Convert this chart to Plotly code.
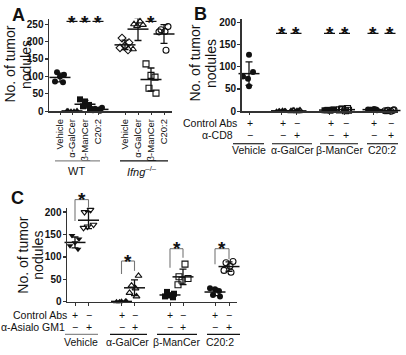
import numpy as np
import plotly.graph_objects as go

# ---------------- data ----------------
A_ticks = ["Vehicle", "α-GalCer", "β-ManCer", "C20:2", "Vehicle", "α-GalCer", "β-ManCer", "C20:2"]
A_wt_vehicle = [112, 105, 100, 85, 83]
A_wt_agalcer = [0, 1, 2, 0, 1]
A_wt_bmancer = [34, 28, 18, 14, 6]
A_wt_c202 = [10, 7, 5, 3, 1]
A_ko_vehicle = [210, 197, 188, 182, 176]
A_ko_agalcer = [258, 250, 248, 245, 178]
A_ko_bmancer = [136, 103, 98, 66, 52]
A_ko_c202 = [243, 234, 229, 228, 175]

B_groups = ["Vehicle", "α-GalCer", "β-ManCer", "C20:2"]
B_vehicle = [127, 88, 78, 73, 56]
B_agalcer_ctrl = [0, 1, 2, 1, 0, 1]
B_agalcer_cd8 = [0, 1, 0, 2, 1, 0]
B_bmancer_ctrl = [2, 3, 1, 4, 2, 3]
B_bmancer_cd8 = [3, 5, 1, 2, 4, 6]
B_c202_ctrl = [4, 3, 5, 2, 3, 4]
B_c202_cd8 = [1, 2, 0, 3, 1, 2]
B_ctrl_signs = ["+", "+", "−", "+", "−", "+", "−"]
B_cd8_signs = ["−", "−", "+", "−", "+", "−", "+"]

C_groups = ["Vehicle", "α-GalCer", "β-ManCer", "C20:2"]
C_vehicle_ctrl = [148, 140, 132, 125, 117]
C_vehicle_agm1 = [205, 200, 172, 168, 165]
C_agalcer_ctrl = [0, 1, 2, 0, 1]
C_agalcer_agm1 = [58, 36, 30, 20, 12]
C_bmancer_ctrl = [22, 18, 14, 12, 10]
C_bmancer_agm1 = [84, 56, 52, 48, 38]
C_c202_ctrl = [30, 28, 24, 15, 12]
C_c202_agm1 = [90, 87, 80, 70, 66]
C_ctrl_signs = ["+", "−", "+", "−", "+", "−", "+", "−"]
C_agm1_signs = ["−", "+", "−", "+", "−", "+", "−", "+"]

# significance marks (value levels)
A_sig_level = 258
B_sig_level = 175
# brackets in C: (top, left leg bottom, right leg bottom)
C_brackets = [(228, 180, 210), (91, 62, 69), (118.5, 76, 98), (118.5, 84, 95)]

# ---------------- layout constants ----------------
W, H = 406, 355
FONT = "Liberation Sans"
INK = "#111111"
AX = "#333333"


def px(x):
    return x / W


def py(y):
    return 1 - y / H


# x axes are expressed in pixel-like units
A_pos = [60, 72, 85, 98, 125, 138, 151, 164]
B_pos = [249, 281.5, 296, 329.5, 344.5, 373, 390]
C_pos = [75, 88.5, 121.5, 134.5, 170, 183, 215, 229]

OFF = [
    [-3, 4, 0, -5, 3],
    [2, -4, 5, -1, -5],
    [-5, 0, 4, -2, 5],
    [4, -3, 1, -5, 2],
]
OFF6 = [-5, -2, 1, 4, -3, 3]
B_veh_off = [0, 4, -6, -1, 0]

A_range_y = [0, 266]
B_range_y = [0, 208]
C_range_y = [0, 208.7]

fig = go.Figure()


def add_points(ax, pos, vals, offs, symbol, filled, size=6):
    xs = [pos + offs[i % len(offs)] for i in range(len(vals))]
    fig.add_trace(go.Scatter(
        x=xs, y=vals, mode="markers", xaxis="x" + ax, yaxis="y" + ax,
        marker=dict(symbol=symbol if filled else symbol + "-open", size=size,
                    color=INK, line=dict(width=0 if filled else 1.1, color=INK)),
        showlegend=False, hoverinfo="skip", cliponaxis=False))


def add_mean(ax, pos, vals, width=15):
    m = float(np.mean(vals))
    s = float(np.std(vals, ddof=1))
    fig.add_trace(go.Scatter(
        x=[pos], y=[m], mode="markers", xaxis="x" + ax, yaxis="y" + ax,
        marker=dict(symbol="line-ew", size=width, color=INK, line=dict(width=1.5, color=INK)),
        error_y=dict(type="data", array=[s], thickness=1.3, width=3.5, color=INK),
        showlegend=False, hoverinfo="skip", cliponaxis=False))


# ---- panel A ----
A_sets = [
    (A_wt_vehicle, "circle", True), (A_wt_agalcer, "triangle-up", True),
    (A_wt_bmancer, "square", True), (A_wt_c202, "circle", True),
    (A_ko_vehicle, "diamond", False), (A_ko_agalcer, "triangle-up", False),
    (A_ko_bmancer, "square", False), (A_ko_c202, "circle", False),
]
for i, (vals, sym, filled) in enumerate(A_sets):
    add_points("", A_pos[i], vals, OFF[i % 4], sym, filled)
    add_mean("", A_pos[i], vals)

# ---- panel B ----
B_sets = [
    (B_vehicle, "circle", True), (B_agalcer_ctrl, "triangle-up", True),
    (B_agalcer_cd8, "triangle-up", False), (B_bmancer_ctrl, "square", True),
    (B_bmancer_cd8, "square", False), (B_c202_ctrl, "circle", True),
    (B_c202_cd8, "circle", False),
]
for i, (vals, sym, filled) in enumerate(B_sets):
    add_points("2", B_pos[i], vals, B_veh_off if i == 0 else OFF6, sym, filled)
    add_mean("2", B_pos[i], vals)

# ---- panel C ----
C_sets = [
    (C_vehicle_ctrl, "triangle-down", True), (C_vehicle_agm1, "triangle-down", False),
    (C_agalcer_ctrl, "triangle-up", True), (C_agalcer_agm1, "triangle-up", False),
    (C_bmancer_ctrl, "square", True), (C_bmancer_agm1, "square", False),
    (C_c202_ctrl, "circle", True), (C_c202_agm1, "circle", False),
]
for i, (vals, sym, filled) in enumerate(C_sets):
    add_points("3", C_pos[i], vals, OFF[i % 4], sym, filled)
    add_mean("3", C_pos[i], vals)

shapes = []
annotations = []


def star(xref, yref, x, v, ymax):
    annotations.append(dict(
        xref=xref, yref=yref + " domain", x=x, y=v / ymax, text="*",
        showarrow=False, xanchor="center", yanchor="middle", yshift=-4.5,
        font=dict(size=19, family=FONT, color=INK, weight="bold")))


def dline(xref, yref, x0, x1, v0, v1, ymax, color=INK, width=1.2):
    shapes.append(dict(type="line", xref=xref, yref=yref + " domain",
                       x0=x0, x1=x1, y0=v0 / ymax, y1=v1 / ymax,
                       line=dict(color=color, width=width)))


# A significance
for i in [1, 2, 3, 6]:
    dline("x", "y", A_pos[i] - 5.5, A_pos[i] + 5.5, A_sig_level, A_sig_level, A_range_y[1])
    star("x", "y", A_pos[i], A_sig_level + 11, A_range_y[1])
# B significance
for i in range(1, 7):
    dline("x2", "y2", B_pos[i] - 5.5, B_pos[i] + 5.5, B_sig_level, B_sig_level, B_range_y[1])
    star("x2", "y2", B_pos[i], B_sig_level + 9, B_range_y[1])
# C brackets
GRAY = "#777777"
for k, (top, lb, rb) in enumerate(C_brackets):
    xl, xr = C_pos[2 * k], C_pos[2 * k + 1]
    ym = C_range_y[1]
    dline("x3", "y3", xl, xl, lb, top, ym, GRAY, 1.1)
    dline("x3", "y3", xl, xr, top, top, ym, GRAY, 1.1)
    dline("x3", "y3", xr, xr, rb, top, ym, GRAY, 1.1)
    star("x3", "y3", (xl + xr) / 2, top + 10, ym)


def text(x, y, s, size=10.5, xanchor="center", bold=False, angle=0, color=INK):
    annotations.append(dict(
        xref="paper", yref="paper", x=px(x), y=py(y), text=s, showarrow=False,
        xanchor=xanchor, yanchor="middle", textangle=angle,
        font=dict(size=size, family=FONT, color=color, weight="bold" if bold else "normal")))


def pline(x0, x1, y, color=INK, width=1.1):
    shapes.append(dict(type="line", xref="paper", yref="paper",
                       x0=px(x0), x1=px(x1), y0=py(y), y1=py(y),
                       line=dict(color=color, width=width)))


# panel letters
text(18, 13, "A", size=18, bold=True)
text(200, 12, "B", size=18, bold=True)
text(17, 201, "C", size=18, bold=True)

# y titles (two lines each)
for (x1, x2, yc) in [(10, 25.5, 64), (195, 210.5, 63), (23.5, 38.5, 259)]:
    text(x1, yc, "No. of tumor", size=14, angle=-90)
    text(x2, yc, "nodules", size=14, angle=-90)

# A groups
pline(55, 100, 162.5, "#8a8a8a", 1.3)
pline(120, 168, 162.5, INK, 1.1)
text(76, 173, "WT", size=11)
text(142, 173, "<i>Ifng</i><sup>–/–</sup>", size=11)

# B rows
text(239, 124, "Control Abs", size=10.5, xanchor="right")
text(235, 136, "α-CD8", size=10.5, xanchor="right")
for i in range(7):
    text(B_pos[i] + 1, 124, B_ctrl_signs[i], size=10.5)
    text(B_pos[i] + 1, 136, B_cd8_signs[i], size=10.5)
B_lines = [(233, 264), (272, 312), (320, 358), (367, 398)]
B_lab_x = [249, 292, 339, 382]
for (a, b), lx, g in zip(B_lines, B_lab_x, B_groups):
    pline(a, b, 145)
    text(lx, 151.5, g, size=10.5)

# C rows
text(69, 320.7, "Control Abs", size=10.5, xanchor="right")
text(67, 332.3, "α-Asialo GM1", size=10.5, xanchor="right")
for i in range(8):
    text(C_pos[i], 320.7, C_ctrl_signs[i], size=10.5)
    text(C_pos[i], 332.3, C_agm1_signs[i], size=10.5)
C_lines = [(65, 98), (110, 147), (157, 197), (207, 240)]
C_lab_x = [81, 127, 176, 220]
for j, ((a, b), lx, g) in enumerate(zip(C_lines, C_lab_x, C_groups)):
    pline(a, b, 340, "#8a8a8a" if j == 0 else INK)
    text(lx, 347.5, g, size=10.5)

yax_common = dict(showline=True, linecolor=AX, linewidth=1.5, ticks="outside", ticklen=3,
                  tickwidth=1.3, tickcolor=AX, showgrid=False, zeroline=False,
                  ticklabelstandoff=-1,
                  tickfont=dict(size=10, family=FONT, color=INK, weight="bold"), fixedrange=True)
xax_common = dict(showline=True, linecolor=AX, linewidth=1.5, ticks="outside", ticklen=2.5,
                  tickwidth=1, tickcolor=AX, showgrid=False, zeroline=False, fixedrange=True)

fig.update_layout(
    width=W, height=H, margin=dict(l=0, r=0, t=0, b=0),
    paper_bgcolor="white", plot_bgcolor="rgba(0,0,0,0)", showlegend=False,
    font=dict(family=FONT, color=INK),
    xaxis=dict(domain=[px(49), px(172)], range=[49, 172], anchor="y",
               tickvals=A_pos, ticktext=A_ticks, tickangle=-90,
               tickfont=dict(size=9.5, family=FONT, color=INK), **xax_common),
    yaxis=dict(domain=[py(111.7), py(17)], range=A_range_y, anchor="x",
               tickvals=[0, 50, 100, 150, 200, 250], **yax_common),
    xaxis2=dict(domain=[px(241.5), px(398)], range=[241.5, 398], anchor="y2",
                tickvals=B_pos, showticklabels=False, **xax_common),
    yaxis2=dict(domain=[py(111.7), py(17)], range=B_range_y, anchor="x2",
                tickvals=[0, 50, 100, 150, 200], **yax_common),
    xaxis3=dict(domain=[px(67), px(237)], range=[67, 237], anchor="y3",
                tickvals=C_pos, showticklabels=False, **xax_common),
    yaxis3=dict(domain=[py(306.7), py(211)], range=C_range_y, anchor="x3",
                tickvals=[0, 50, 100, 150, 200], **yax_common),
    shapes=shapes, annotations=annotations,
)

fig.write_html("out.html", config={"displayModeBar": False, "staticPlot": True},
               post_script="document.body.style.margin='0';")
